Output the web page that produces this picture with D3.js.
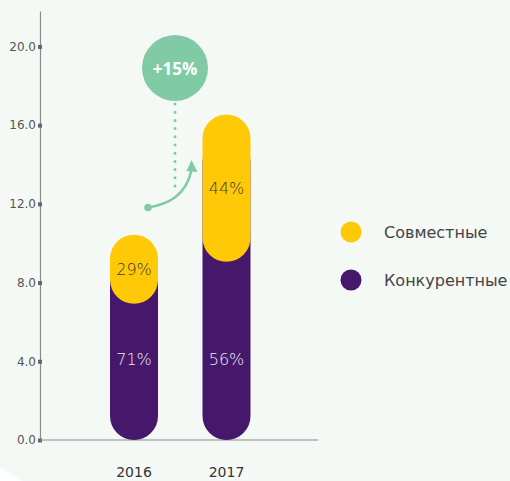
<!DOCTYPE html>
<html><head><meta charset="utf-8">
<script src="https://cdn.jsdelivr.net/npm/d3@7/dist/d3.min.js"></script>
<style>
html,body{margin:0;padding:0;background:#fff;}
svg{display:block;font-family:"DejaVu Sans",sans-serif;}
</style></head>
<body>
<svg id="chart" width="510" height="481"></svg>
<script>
// ---- data ----
const years = ["2016", "2017"];
const competitive = [6.92, 9.06];   // Конкурентные
const joint = [3.51, 7.48];         // Совместные
const competitivePct = ["71%", "56%"];
const jointPct = ["29%", "44%"];
const yTicks = [0, 4, 8, 12, 16, 20];
const seriesNames = ["Совместные", "Конкурентные"];
const growthLabel = "+15%";

const colors = {joint: "#ffc907", comp: "#45186b", green: "#80cba5"};

const svg = d3.select("#chart");
// background
svg.append("rect").attr("width", 510).attr("height", 481).attr("fill", "#f5f9f6");
svg.append("path").attr("d", "M0,467 L22,481 L0,481 Z").attr("fill", "#ffffff");

const y = d3.scaleLinear().domain([0, 21.8]).range([440, 11]);
const x = d3.scalePoint().domain(years).range([134, 226.5]);
const barW = 48, r = 24;

// axes
const yAxis = svg.append("g").attr("transform", "translate(40,0)")
  .call(d3.axisLeft(y).tickValues(yTicks).tickFormat(d3.format(".1f")).tickSize(0).tickSizeOuter(0).tickPadding(4));
yAxis.select(".domain").attr("stroke", "#8a8a8a").attr("stroke-width", 1.2);
yAxis.selectAll(".tick text").attr("fill", "#555").style("font-size", "12px").style("font-family", "DejaVu Sans");
yAxis.selectAll(".tick").append("rect").attr("x", -2).attr("y", -2).attr("width", 4).attr("height", 4).attr("fill", "#666");

svg.append("line").attr("x1", 40).attr("x2", 318).attr("y1", y(0)).attr("y2", y(0))
  .attr("stroke", "#8a8a8a").attr("stroke-width", 1.2);

// x labels
svg.selectAll(".xl").data(years).join("text")
  .attr("x", d => x(d)).attr("y", 477).attr("text-anchor", "middle")
  .attr("fill", "#333").style("font-size", "14px").text(d => d);

// bars
years.forEach((yr, i) => {
  const cx = x(yr);
  const total = competitive[i] + joint[i];
  // competitive pill (bottom)
  svg.append("rect").attr("x", cx - barW / 2).attr("width", barW)
    .attr("y", y(total) + r).attr("height", y(0) - y(total) - r)
    .attr("rx", r).attr("ry", r).attr("fill", colors.comp);
  // joint pill (top)
  svg.append("rect").attr("x", cx - barW / 2).attr("width", barW)
    .attr("y", y(total)).attr("height", y(competitive[i]) - y(total))
    .attr("rx", r).attr("ry", r).attr("fill", colors.joint);
  // labels
  svg.append("text").attr("x", cx).attr("y", (y(total) + y(competitive[i])) / 2)
    .attr("text-anchor", "middle").attr("dominant-baseline", "central")
    .attr("fill", "#3a3a3a").style("font-size", "16px").style("font-weight", 300)
    .text(jointPct[i]);
  svg.append("text").attr("x", cx).attr("y", y(4.1))
    .attr("text-anchor", "middle").attr("dominant-baseline", "central")
    .attr("fill", "#efe9f5").style("font-size", "16px").style("font-weight", 300)
    .text(competitivePct[i]);
});

// growth annotation
const gx = 175;
svg.append("line").attr("x1", gx).attr("x2", gx).attr("y1", 104).attr("y2", 188)
  .attr("stroke", colors.green).attr("stroke-width", 3).attr("stroke-linecap", "round")
  .attr("stroke-dasharray", "0 8.2");
svg.append("circle").attr("cx", gx).attr("cy", 68).attr("r", 33).attr("fill", colors.green);
svg.append("text").attr("x", gx).attr("y", 68).attr("text-anchor", "middle").attr("dominant-baseline", "central")
  .attr("fill", "#fff").style("font-size", "17px").style("font-weight", "bold")
  .style("font-family", "'Open Sans', sans-serif").text(growthLabel);

svg.append("circle").attr("cx", 148).attr("cy", 207.5).attr("r", 3.8).attr("fill", colors.green);
svg.append("path").attr("d", "M148,207.5 C168,204 186,196 191.5,170")
  .attr("fill", "none").attr("stroke", colors.green).attr("stroke-width", 2.6);
svg.append("path").attr("d", "M191.5,160 L197.5,172 L186.5,171 Z").attr("fill", colors.green);

// legend
const leg = svg.append("g");
const legColors = [colors.joint, colors.comp];
seriesNames.forEach((n, i) => {
  const ly = 232 + i * 48;
  leg.append("circle").attr("cx", 351).attr("cy", ly).attr("r", 10.5).attr("fill", legColors[i]);
  leg.append("text").attr("x", 384).attr("y", ly).attr("dominant-baseline", "central")
    .attr("fill", "#444").style("font-size", "16px").text(n);
});
</script>
</body></html>
